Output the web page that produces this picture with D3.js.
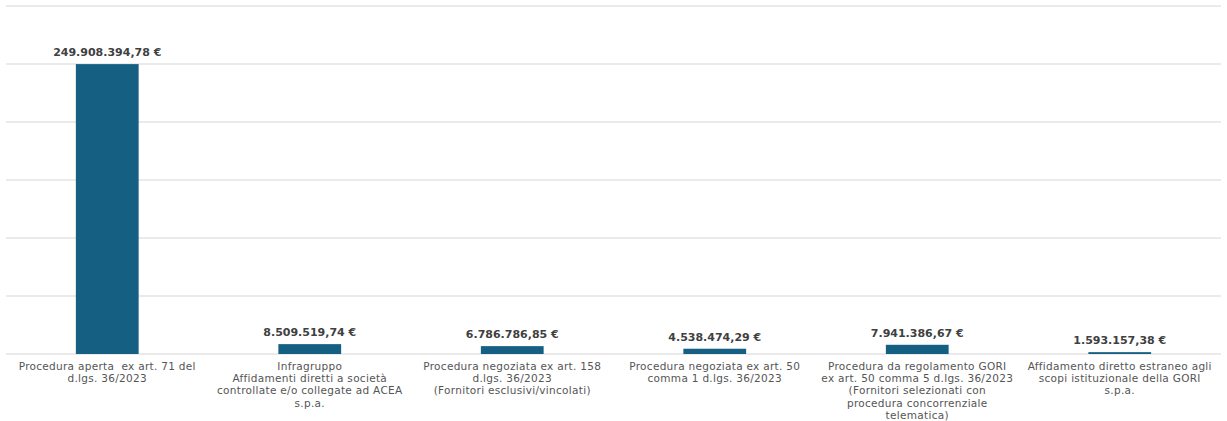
<!DOCTYPE html>
<html>
<head>
<meta charset="utf-8">
<script src="https://cdn.jsdelivr.net/npm/d3@7"></script>
<style>
  body { margin: 0; background: #fff; }
  text { font-family: "DejaVu Sans", "Open Sans", sans-serif; }
</style>
</head>
<body>
<div id="chart"></div>
<script>
// categories (one array of lines per label) and values
const categories = [
  ["Procedura aperta  ex art. 71 del", "d.lgs. 36/2023"],
  ["Infragruppo", "Affidamenti diretti a società", "controllate e/o collegate ad ACEA", "s.p.a."],
  ["Procedura negoziata ex art. 158", "d.lgs. 36/2023", "(Fornitori esclusivi/vincolati)"],
  ["Procedura negoziata ex art. 50", "comma 1 d.lgs. 36/2023"],
  ["Procedura da regolamento GORI", "ex art. 50 comma 5 d.lgs. 36/2023", "(Fornitori selezionati con", "procedura concorrenziale", "telematica)"],
  ["Affidamento diretto estraneo agli", "scopi istituzionale della GORI", "s.p.a."]
];
const values = [249908394.78, 8509519.74, 6786786.85, 4538474.29, 7941386.67, 1593157.38];
const valueLabels = ["249.908.394,78 €", "8.509.519,74 €", "6.786.786,85 €", "4.538.474,29 €", "7.941.386,67 €", "1.593.157,38 €"];
const gridTicks = [0, 50e6, 100e6, 150e6, 200e6, 250e6, 300e6];

const W = 1227, H = 421;
const margin = { top: 6, right: 6, bottom: 67, left: 6 };
const width = W - margin.left - margin.right;
const height = H - margin.top - margin.bottom;

const svg = d3.select("#chart")
  .append("svg")
  .attr("width", W)
  .attr("height", H)
  .append("g")
  .attr("transform", `translate(${margin.left},${margin.top})`);

const data = values.map((v, i) => ({ i: i, value: v, lines: categories[i], label: valueLabels[i] }));

const xScale = d3.scaleBand()
  .domain(data.map(d => d.i))
  .range([0, width])
  .paddingInner(0.69)
  .paddingOuter(0.345);

const yScale = d3.scaleLinear()
  .domain([0, 300e6])
  .range([height, 0]);

// gridlines
svg.append("g")
  .selectAll("line")
  .data(gridTicks)
  .enter()
  .append("line")
  .attr("x1", 0)
  .attr("x2", width)
  .attr("y1", d => yScale(d))
  .attr("y2", d => yScale(d))
  .attr("stroke", "#e3e3e3")
  .attr("stroke-width", 1.5);

// bars
svg.selectAll(".bar")
  .data(data)
  .enter()
  .append("rect")
  .attr("class", "bar")
  .attr("x", d => xScale(d.i))
  .attr("y", d => yScale(d.value))
  .attr("width", xScale.bandwidth())
  .attr("height", d => height - yScale(d.value))
  .attr("fill", "#156082");

// value labels
svg.selectAll(".vlabel")
  .data(data)
  .enter()
  .append("text")
  .attr("class", "vlabel")
  .attr("x", d => xScale(d.i) + xScale.bandwidth() / 2)
  .attr("y", d => yScale(d.value) - 8)
  .attr("text-anchor", "middle")
  .attr("fill", "#404040")
  .style("font-size", "11px")
  .style("font-weight", "700")
  .text(d => d.label);

// category labels
const catG = svg.selectAll(".cat")
  .data(data)
  .enter()
  .append("text")
  .attr("class", "cat")
  .attr("text-anchor", "middle")
  .attr("fill", "#555555")
  .style("font-size", "10.5px")
  .style("letter-spacing", "0.3px")
  .style("white-space", "pre");

catG.selectAll("tspan")
  .data(d => d.lines.map(l => ({ l: l, x: xScale(d.i) + xScale.bandwidth() / 2 })))
  .enter()
  .append("tspan")
  .attr("x", d => d.x)
  .attr("y", (d, j) => height + 16 + j * 12.2)
  .text(d => d.l);
</script>
</body>
</html>
